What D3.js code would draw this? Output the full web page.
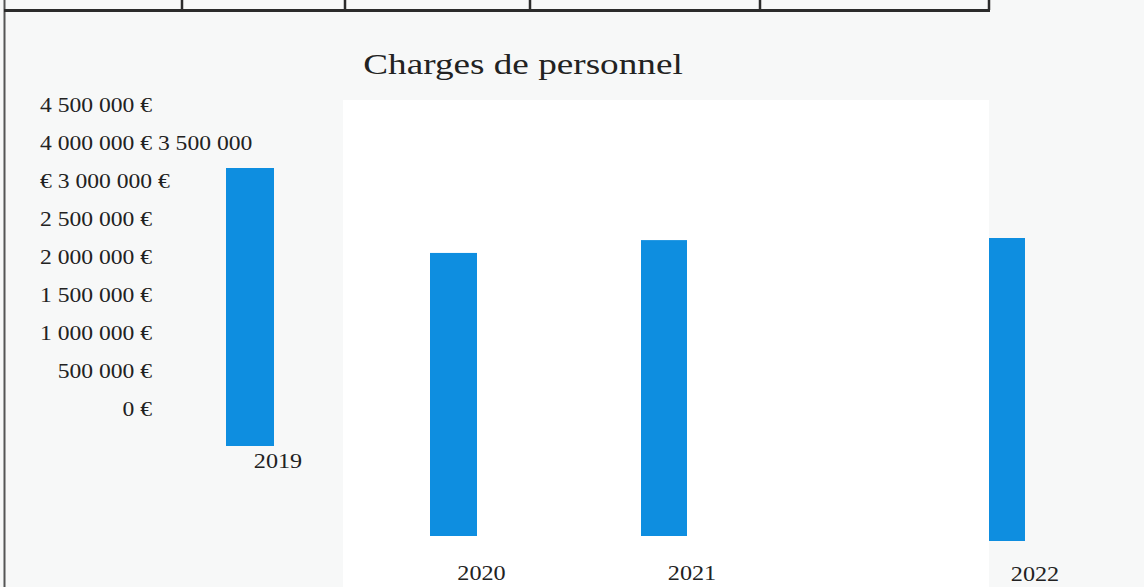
<!DOCTYPE html>
<html lang="fr">
  <head>
    <meta charset="UTF-8" />
    <title>Charges de personnel</title>
    <script src="https://d3js.org/d3.v7.min.js"></script>
    <style>
      body {
        margin: 0;
        background: #f7f8f8;
      }
      text {
        font-family: "Liberation Serif", "Times New Roman", serif;
        fill: #222;
      }
      .bar {
        fill: #0e8ee0;
      }
    </style>
  </head>
  <body>
    <svg id="chart" width="1144" height="587"></svg>

    <script>
      // data
      const years = [2019, 2020, 2021, 2022];
      const values = [4115000, 4190000, 4380000, 4485000];
      const yTickLines = [
        "4 500 000 €",
        "4 000 000 € 3 500 000",
        "€ 3 000 000 €",
        "2 500 000 €",
        "2 000 000 €",
        "1 500 000 €",
        "1 000 000 €",
        "500 000 €",
        "0 €",
      ];
      const title = "Charges de personnel";

      const svg = d3.select("#chart");
      const stretch = 1.18; // the scan is wider than it is tall

      // page furniture: table row above, left margin rule, white plot block
      const page = svg.append("g");
      page.append("rect")
        .attr("x", 343).attr("y", 100)
        .attr("width", 646).attr("height", 487)
        .attr("fill", "#ffffff");
      page.append("line")
        .attr("x1", 4.5).attr("x2", 4.5).attr("y1", 0).attr("y2", 587)
        .attr("stroke", "#555").attr("stroke-width", 2);
      page.append("line")
        .attr("x1", 4).attr("x2", 990).attr("y1", 10.5).attr("y2", 10.5)
        .attr("stroke", "#2b2b2b").attr("stroke-width", 3);
      [182, 345, 530, 760, 989].forEach((x) => {
        page.append("line")
          .attr("x1", x).attr("x2", x).attr("y1", 0).attr("y2", 10)
          .attr("stroke", "#2b2b2b").attr("stroke-width", 2.5);
      });

      // scales (the scan shifted each bar, so x and baseline are piecewise)
      const x = d3.scaleLinear().domain(years).range([250, 453.5, 664, 1007]);
      const bw = d3.scaleLinear().domain(years).range([48, 47, 46, 36]);
      const base = d3.scaleLinear().domain(years).range([446, 536, 536, 541]);
      const labelY = d3.scaleLinear().domain(years).range([468, 580, 580, 581]);
      const h = d3.scaleLinear().domain([0, 4500000]).range([0, 304]);

      const data = years.map((y, i) => ({ year: y, value: values[i] }));

      // bars
      svg.selectAll(".bar")
        .data(data)
        .enter()
        .append("rect")
        .attr("class", "bar")
        .attr("x", (d) => x(d.year) - bw(d.year) / 2)
        .attr("y", (d) => base(d.year) - h(d.value))
        .attr("width", (d) => bw(d.year))
        .attr("height", (d) => h(d.value));

      // year labels
      svg.selectAll(".year")
        .data(data)
        .enter()
        .append("text")
        .attr("class", "year")
        .attr("text-anchor", "middle")
        .style("font-size", "20.5px")
        .attr("transform", (d) =>
          `translate(${x(d.year) + 28},${labelY(d.year)}) scale(${stretch},1)`)
        .text((d) => d.year);

      // y tick labels (wrapped as in the scan)
      const yLine = d3.scalePoint().domain(yTickLines).range([112, 416]);
      const wrapped = (s) => s.startsWith("€") || !s.endsWith("€");
      svg.selectAll(".ytick")
        .data(yTickLines)
        .enter()
        .append("text")
        .attr("class", "ytick")
        .style("font-size", "20px")
        .attr("text-anchor", (d) => (wrapped(d) ? "start" : "end"))
        .attr("transform", (d) =>
          `translate(${wrapped(d) ? 40 : 152},${yLine(d)}) scale(${stretch},1)`)
        .text((d) => d);

      // title
      svg.append("text")
        .attr("text-anchor", "middle")
        .style("font-size", "30px")
        .attr("transform", `translate(523,74) scale(1.24,1)`)
        .text(title);
    </script>
  </body>
</html>
